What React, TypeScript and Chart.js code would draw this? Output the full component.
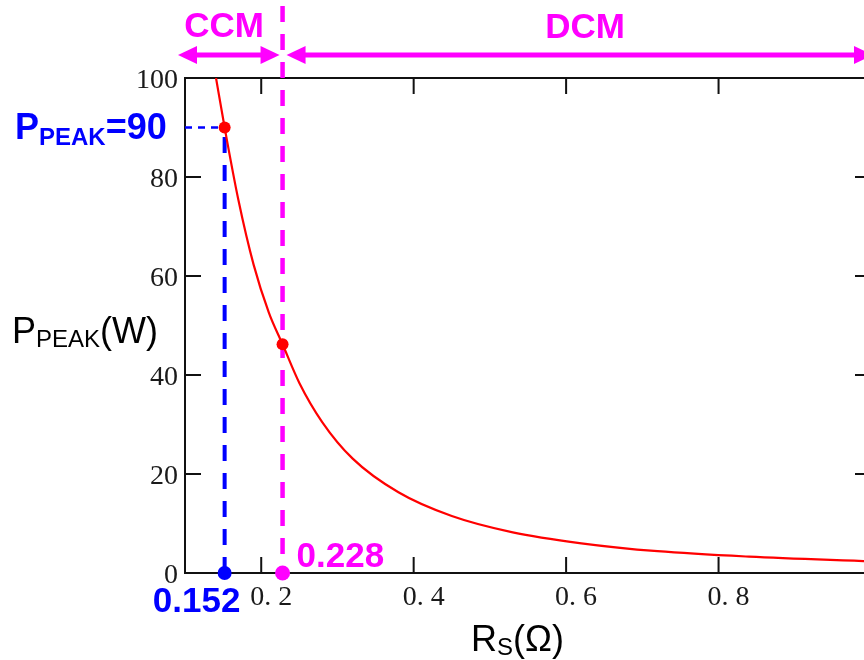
import { useEffect, useRef } from "react";
import { Chart, registerables } from "chart.js";

Chart.register(...registerables);

// Peak power versus sense resistance
const RS_VALUES = [0.1407, 0.152, 0.17, 0.19, 0.21, 0.228, 0.25, 0.28, 0.32, 0.38, 0.45, 0.53, 0.62, 0.72, 0.84, 1.0];
const PPEAK_VALUES = [100, 90, 75.4, 62.3, 52.6, 46.2, 38.4, 30.5, 23.1, 16.3, 11.5, 8.2, 6.0, 4.4, 3.3, 2.35];

// Highlighted operating points
const PEAK_RS = 0.152;
const PEAK_P = 90;
const BOUNDARY_RS = 0.228;
const BOUNDARY_P = 46.2;

// Axis ticks
const X_TICKS = [0.2, 0.4, 0.6, 0.8, 1.0];
const X_TICK_LABELS = ["0. 2", "0. 4", "0. 6", "0. 8", ""];
const Y_TICKS = [0, 20, 40, 60, 80, 100];

const RED = "#ff0000";
const BLUE = "#0000ff";
const MAGENTA = "#ff00ff";
const SANS = '"Liberation Sans", Arial, sans-serif';
const SERIF = '"Liberation Serif", "Times New Roman", serif';

function drawSubscripted(
  ctx: CanvasRenderingContext2D,
  x: number,
  baseline: number,
  parts: { text: string; font: string; dy: number }[]
) {
  let cx = x;
  for (const p of parts) {
    ctx.font = p.font;
    ctx.fillText(p.text, cx, baseline + p.dy);
    cx += ctx.measureText(p.text).width;
  }
}

function arrowHead(ctx: CanvasRenderingContext2D, tipX: number, y: number, dir: number) {
  const len = 19;
  const half = 9;
  ctx.beginPath();
  ctx.moveTo(tipX, y);
  ctx.lineTo(tipX - dir * len, y - half);
  ctx.lineTo(tipX - dir * len, y + half);
  ctx.closePath();
  ctx.fill();
}

const overlay = {
  id: "overlay",
  beforeDatasetsDraw(chart: any) {
    const { ctx, chartArea: a, scales } = chart;
    const x = scales.x;
    const y = scales.y;
    ctx.save();

    // frame
    ctx.strokeStyle = "#111";
    ctx.lineWidth = 2;
    ctx.strokeRect(a.left, a.top, a.right - a.left, a.bottom - a.top);

    // inward tick marks on all four sides
    const T = 16;
    ctx.beginPath();
    for (const v of X_TICKS) {
      const px = x.getPixelForValue(v);
      ctx.moveTo(px, a.bottom);
      ctx.lineTo(px, a.bottom - T);
      ctx.moveTo(px, a.top);
      ctx.lineTo(px, a.top + T);
    }
    for (const v of Y_TICKS.slice(1, -1)) {
      const py = y.getPixelForValue(v);
      ctx.moveTo(a.left, py);
      ctx.lineTo(a.left + T, py);
      ctx.moveTo(a.right, py);
      ctx.lineTo(a.right - T, py);
    }
    ctx.stroke();

    const y0 = y.getPixelForValue(0);

    // peak guide lines
    const bx = x.getPixelForValue(PEAK_RS);
    const by = y.getPixelForValue(PEAK_P);
    ctx.strokeStyle = BLUE;
    ctx.lineWidth = 4;
    ctx.setLineDash([16, 12]);
    ctx.beginPath();
    ctx.moveTo(bx, y0);
    ctx.lineTo(bx, by);
    ctx.stroke();
    ctx.lineWidth = 2.5;
    ctx.setLineDash([7, 6]);
    ctx.beginPath();
    ctx.moveTo(a.left, by);
    ctx.lineTo(bx, by);
    ctx.stroke();

    // CCM / DCM boundary
    const mx = x.getPixelForValue(BOUNDARY_RS);
    ctx.strokeStyle = MAGENTA;
    ctx.lineWidth = 4.5;
    ctx.setLineDash([16, 12]);
    ctx.beginPath();
    ctx.moveTo(mx, 6);
    ctx.lineTo(mx, y0);
    ctx.stroke();
    ctx.restore();
  },
  afterDraw(chart: any) {
    const { ctx, chartArea: a, scales } = chart;
    const x = scales.x;
    const y = scales.y;
    const bx = x.getPixelForValue(PEAK_RS);
    const by = y.getPixelForValue(PEAK_P);
    const mx = x.getPixelForValue(BOUNDARY_RS);
    const y0 = y.getPixelForValue(0);
    ctx.save();
    ctx.textAlign = "left";
    ctx.textBaseline = "alphabetic";

    // axis titles
    ctx.fillStyle = "#000";
    drawSubscripted(ctx, 12, 343, [
      { text: "P", font: `36px ${SANS}`, dy: 0 },
      { text: "PEAK", font: `24px ${SANS}`, dy: 4 },
      { text: "(W)", font: `36px ${SANS}`, dy: 0 },
    ]);
    drawSubscripted(ctx, 471, 651, [
      { text: "R", font: `36px ${SANS}`, dy: 0 },
      { text: "S", font: `24px ${SANS}`, dy: 4 },
      { text: "(Ω)", font: `36px ${SANS}`, dy: 0 },
    ]);

    // peak annotation
    ctx.fillStyle = BLUE;
    drawSubscripted(ctx, 15, by + 11, [
      { text: "P", font: `bold 36px ${SANS}`, dy: 0 },
      { text: "PEAK", font: `bold 24px ${SANS}`, dy: 6 },
      { text: "=" + PEAK_P, font: `bold 36px ${SANS}`, dy: 0 },
    ]);
    ctx.font = `bold 35px ${SANS}`;
    ctx.textAlign = "center";
    ctx.fillText(String(PEAK_RS), bx - 28, y0 + 39);

    // boundary annotation
    ctx.fillStyle = MAGENTA;
    ctx.textAlign = "left";
    ctx.fillText(String(BOUNDARY_RS), mx + 14, y0 - 6);

    // mode arrows
    const ay = 55;
    ctx.strokeStyle = MAGENTA;
    ctx.lineWidth = 5;
    const ccmL = a.left - 7;
    const ccmR = mx - 3;
    const dcmL = mx + 4;
    const dcmR = a.right + 2;
    ctx.beginPath();
    ctx.moveTo(ccmL + 12, ay);
    ctx.lineTo(ccmR - 12, ay);
    ctx.moveTo(dcmL + 12, ay);
    ctx.lineTo(dcmR - 12, ay);
    ctx.stroke();
    arrowHead(ctx, ccmL, ay, -1);
    arrowHead(ctx, ccmR, ay, 1);
    arrowHead(ctx, dcmL, ay, -1);
    arrowHead(ctx, dcmR, ay, 1);

    ctx.textAlign = "center";
    ctx.font = `bold 35px ${SANS}`;
    ctx.fillText("CCM", a.left + 39, 37);
    ctx.fillText("DCM", 585, 38);
    ctx.restore();
  },
};

export default function App() {
  const ref = useRef<HTMLCanvasElement>(null);

  useEffect(() => {
    const curve = RS_VALUES.map((r, i) => ({ x: r, y: PPEAK_VALUES[i] }));
    const chart = new Chart(ref.current as HTMLCanvasElement, {
      type: "line",
      data: {
        datasets: [
          {
            label: "P_PEAK",
            data: curve,
            borderColor: RED,
            borderWidth: 2.2,
            pointRadius: 0,
            cubicInterpolationMode: "monotone",
            fill: false,
          },
          {
            label: "operating points",
            data: [
              { x: PEAK_RS, y: PEAK_P },
              { x: BOUNDARY_RS, y: BOUNDARY_P },
            ],
            showLine: false,
            pointRadius: 6,
            pointBackgroundColor: RED,
            pointBorderWidth: 0,
            clip: false as any,
          },
          {
            label: "resistance marks",
            data: [
              { x: PEAK_RS, y: 0 },
              { x: BOUNDARY_RS, y: 0 },
            ],
            showLine: false,
            pointRadius: [7, 7.5],
            pointBackgroundColor: [BLUE, MAGENTA],
            pointBorderWidth: 0,
            clip: false as any,
          },
        ],
      },
      options: {
        responsive: false,
        animation: false,
        events: [],
        layout: { padding: { top: 78, right: 29, left: 0, bottom: 0 } },
        plugins: { legend: { display: false }, tooltip: { enabled: false } },
        scales: {
          x: {
            type: "linear",
            min: 0.1,
            max: 1.0,
            afterBuildTicks: (s: any) => {
              s.ticks = X_TICKS.map((v) => ({ value: v }));
            },
            afterFit: (s: any) => {
              s.height = 87;
            },
            grid: { display: false, drawTicks: false },
            border: { display: false },
            ticks: {
              autoSkip: false,
              maxRotation: 0,
              padding: 8,
              labelOffset: 10,
              color: "#1a1a1a",
              font: { family: SERIF, size: 28 },
              callback: (v: any) => {
                const i = X_TICKS.findIndex((t) => Math.abs(t - Number(v)) < 1e-9);
                return i >= 0 ? X_TICK_LABELS[i] : "";
              },
            },
          },
          y: {
            type: "linear",
            min: 0,
            max: 100,
            afterBuildTicks: (s: any) => {
              s.ticks = Y_TICKS.map((v) => ({ value: v }));
            },
            afterFit: (s: any) => {
              s.width = 185;
            },
            grid: { display: false, drawTicks: false },
            border: { display: false },
            ticks: {
              padding: 7,
              labelOffset: 3,
              color: "#1a1a1a",
              font: { family: SERIF, size: 28 },
            },
          },
        },
      },
      plugins: [overlay],
    });
    return () => chart.destroy();
  }, []);

  return (
    <div
      style={{
        position: "fixed",
        left: 0,
        top: 0,
        width: 864,
        height: 660,
        overflow: "hidden",
        background: "#fff",
      }}
    >
      <canvas ref={ref} width={900} height={660} style={{ display: "block", width: 900, height: 660 }} />
    </div>
  );
}
